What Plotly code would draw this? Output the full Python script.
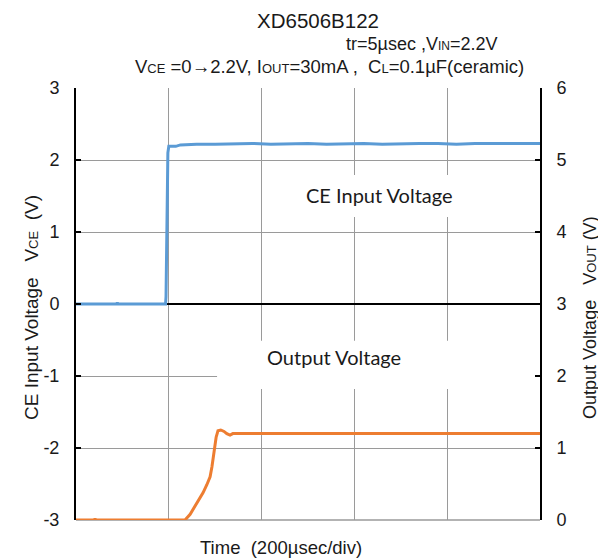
import plotly.graph_objects as go

# ---------------- data ----------------
# CE input voltage (left axis, V) vs time (usec)
t_ce = [0, 40, 88, 89, 90, 150, 193, 194, 196, 198, 200, 215, 225, 260, 300, 340, 380,
        420, 460, 500, 540, 580, 620, 660, 700, 740, 780, 820, 860, 900, 950, 1000]
v_ce = [0.0, 0.0, 0.0, 0.02, 0.0, 0.0, 0.0, 0.1, 1.2, 2.1, 2.19, 2.19, 2.21, 2.22, 2.22, 2.23, 2.23,
        2.22, 2.23, 2.23, 2.22, 2.23, 2.23, 2.22, 2.23, 2.23, 2.23, 2.22, 2.23, 2.23, 2.23, 2.23]

# Output voltage (right axis, V) vs time (usec)
t_out = [0, 40, 41, 42, 100, 180, 235, 246, 261, 274, 282, 289, 293, 297, 300, 302, 306,
         312, 319, 325, 332, 338, 360, 400, 450, 500, 550, 600, 650, 700, 750, 800, 850, 900, 950, 1000]
v_out = [0.0, 0.0, 0.02, 0.0, 0.0, 0.0, 0.0, 0.08, 0.24, 0.38, 0.49, 0.6, 0.74, 0.93, 1.0, 1.15, 1.24,
         1.25, 1.23, 1.2, 1.18, 1.2, 1.2, 1.2, 1.2, 1.21, 1.2, 1.21, 1.2, 1.2, 1.21, 1.2, 1.21, 1.2, 1.2, 1.2]

left_ticks = [-3, -2, -1, 0, 1, 2, 3]
left_labels = ["-3", "-2", "-1", "0", "1", "2", "3"]
right_ticks = [0, 1, 2, 3, 4, 5, 6]
right_labels = ["0", "1", "2", "3", "4", "5", "6"]
x_ticks = [0, 200, 400, 600, 800, 1000]

BLUE = "#5B9BD5"
ORANGE = "#ED7D31"
GRID = "#9a9a9a"
INK = "#1a1a1a"
ARIAL = "Liberation Sans, Arial, sans-serif"
CAL = "Lato, Open Sans, sans-serif"

fig = go.Figure()
fig.add_trace(go.Scatter(x=t_ce, y=v_ce, mode="lines", line=dict(color=BLUE, width=3),
                         showlegend=False, hoverinfo="skip"))
fig.add_trace(go.Scatter(x=t_out, y=v_out, mode="lines", line=dict(color=ORANGE, width=3),
                         yaxis="y2", showlegend=False, hoverinfo="skip"))

# page body has an 8px margin, so the figure is 8px smaller than the window
fig.update_layout(
    width=598, height=552,
    margin=dict(l=68, r=66, t=80, b=40),
    paper_bgcolor="white", plot_bgcolor="white",
    xaxis=dict(range=[0, 1000], tickvals=x_ticks, showticklabels=False, showgrid=True,
               gridcolor=GRID, gridwidth=1, zeroline=False, showline=False, ticks=""),
    yaxis=dict(range=[-3, 3], tickvals=left_ticks, ticktext=left_labels,
               showgrid=True, gridcolor=GRID, gridwidth=1,
               zeroline=True, zerolinecolor="black", zerolinewidth=1.5,
               showline=True, linecolor="black", linewidth=2, mirror=False,
               ticks="inside", ticklen=5, tickcolor="black", tickwidth=1.5,
               ticklabelstandoff=11,
               tickfont=dict(family=ARIAL, size=18, color=INK)),
    yaxis2=dict(range=[0, 6], tickvals=right_ticks, ticktext=right_labels,
                overlaying="y", side="right",
                showgrid=False, zeroline=False, showline=True, linecolor="black", linewidth=2,
                ticks="inside", ticklen=5, tickcolor="black", tickwidth=1.5,
                ticklabelstandoff=11,
                tickfont=dict(family=ARIAL, size=18, color=INK)),
)

# white label boxes covering the grid
fig.add_shape(type="rect", xref="x", yref="y", x0=470, x1=840, y0=1.21, y1=1.79,
              fillcolor="white", line=dict(width=0), layer="between")
fig.add_shape(type="rect", xref="x", yref="y", x0=304, x1=1000, y0=-1.18, y1=-0.51,
              fillcolor="white", line=dict(width=0), layer="between")
# bottom grid edge
fig.add_shape(type="line", xref="paper", yref="paper", x0=0, x1=1, y0=0, y1=0,
              line=dict(color=GRID, width=1.5), layer="between")

def ann(text, x, y, size, family=ARIAL, xanchor="center", angle=0):
    fig.add_annotation(text=text, xref="paper", yref="paper", x=x, y=y, showarrow=False,
                       xanchor=xanchor, yanchor="middle", textangle=angle,
                       font=dict(family=family, size=size, color=INK))

def sm(s, px):
    return "<span style='font-size:%dpx'>%s</span>" % (px, s)

ann("XD6506B122", 0.386, 1.157, 20.5, xanchor="left")
ann("tr=5µsec ,V" + sm("IN", 12) + "=2.2V", 0.578, 1.102, 18, xanchor="left")
ann("V" + sm("CE", 13) + " =0→2.2V, I" + sm("OUT", 13) + "=30mA ,  C" + sm("L", 13)
    + "=0.1µF(ceramic)", 0.123, 1.049, 18.5, xanchor="left")
ann("CE Input Voltage   V" + sm("CE", 13) + "  (V)", -0.097, 0.493, 19, angle=-90)
ann("Output Voltage   V" + sm("OUT", 13) + " (V)", 1.108, 0.468, 18, angle=-90)
ann("Time  (200µsec/div)", 0.442, -0.063, 18.5)

fig.add_annotation(text="CE Input Voltage", xref="x", yref="y", x=655, y=1.51, showarrow=False,
                   font=dict(family=CAL, size=20, color=INK))
fig.add_annotation(text="Output Voltage", xref="x", yref="y", x=556, y=-0.74, showarrow=False,
                   font=dict(family=CAL, size=20, color=INK))

fig.write_html("out.html")
